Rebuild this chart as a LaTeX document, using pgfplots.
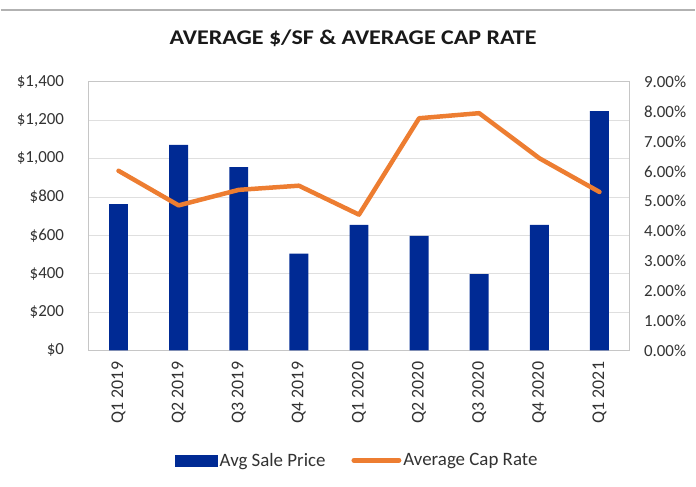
\documentclass[border=0pt]{standalone}
\usepackage{pgfplots}
\pgfplotsset{compat=1.18}
\usepackage{fontspec}
\setmainfont{Carlito}
\newfontfamily\titlefont{Carlito}[FakeStretch=1.15]
\definecolor{barblue}{RGB}{0,42,148}
\definecolor{caporange}{RGB}{237,125,49}
\definecolor{labgray}{RGB}{50,50,50}
\begin{document}
\begin{tikzpicture}[x=1bp,y=1bp]
\path (0,0) rectangle (696,487);
\draw[gray!60, line width=1.2bp] (0,477) -- (696,477);
\node[anchor=base, font=\titlefont\fontsize{21}{24}\selectfont\bfseries, text=black!90] at (353,442) {AVERAGE \$/SF \& AVERAGE CAP RATE};
\begin{axis}[
  at={(88bp,136bp)}, anchor=south west,
  width=542bp, height=269bp, scale only axis,
  xmin=-0.5, xmax=8.5, ymin=0, ymax=1400,
  xtick={0,...,8},
  xticklabels={Q1 2019,Q2 2019,Q3 2019,Q4 2019,Q1 2020,Q2 2020,Q3 2020,Q4 2020,Q1 2021},
  x tick label style={rotate=90, anchor=east, font=\fontsize{18}{20}\selectfont, text=labgray},
  ytick={0,200,...,1400},
  yticklabels={\$0,\$200,\$400,\$600,\$800,{\$1,000},{\$1,200},{\$1,400}},
  y tick label style={font=\fontsize{17}{20}\selectfont, text=labgray},
  major tick length=0pt,
  xticklabel shift=8bp, yticklabel shift=21bp,
  ymajorgrids, grid style={gray!25, line width=0.8bp},
  axis line style={gray!45, line width=0.8bp},
  legend style={at={(0.497,-0.409)}, anchor=center, draw=none, legend columns=2,
    font=\fontsize{19}{22}\selectfont, text=labgray,
    nodes={inner xsep=2bp},
    /tikz/every even column/.append style={column sep=24bp}},
]
\addplot[ybar, bar width=19bp, fill=barblue, draw=none, bar shift=0pt, forget plot] coordinates {
(0,762) (1,1072) (2,956) (3,505) (4,655) (5,597) (6,398) (7,655) (8,1248)};
\addlegendimage{legend image code/.code={\fill[barblue] (0bp,-5.5bp) rectangle (42bp,5.5bp);}}
\addlegendentry{Avg Sale Price}
\addlegendimage{legend image code/.code={\draw[caporange, line width=5bp, line cap=round] (2bp,0) -- (47bp,0);}}
\addlegendentry{Average Cap Rate}
\end{axis}
\begin{axis}[
  at={(88bp,136bp)}, anchor=south west,
  width=542bp, height=269bp, scale only axis,
  xmin=-0.5, xmax=8.5, ymin=0, ymax=9,
  axis x line=none, axis y line*=right,
  axis line style={gray!45, line width=0.8bp},
  ytick={0,1,...,9},
  yticklabels={0.00\%,1.00\%,2.00\%,3.00\%,4.00\%,5.00\%,6.00\%,7.00\%,8.00\%,9.00\%},
  y tick label style={font=\fontsize{17}{20}\selectfont, text=labgray},
  major tick length=0pt, yticklabel shift=11bp,
]
\addplot[caporange, line width=4.5bp, line join=round, line cap=round] coordinates {
(0,6.02) (1,4.86) (2,5.38) (3,5.52) (4,4.55) (5,7.78) (6,7.95) (7,6.44) (8,5.31)};
\end{axis}
\end{tikzpicture}
\end{document}
